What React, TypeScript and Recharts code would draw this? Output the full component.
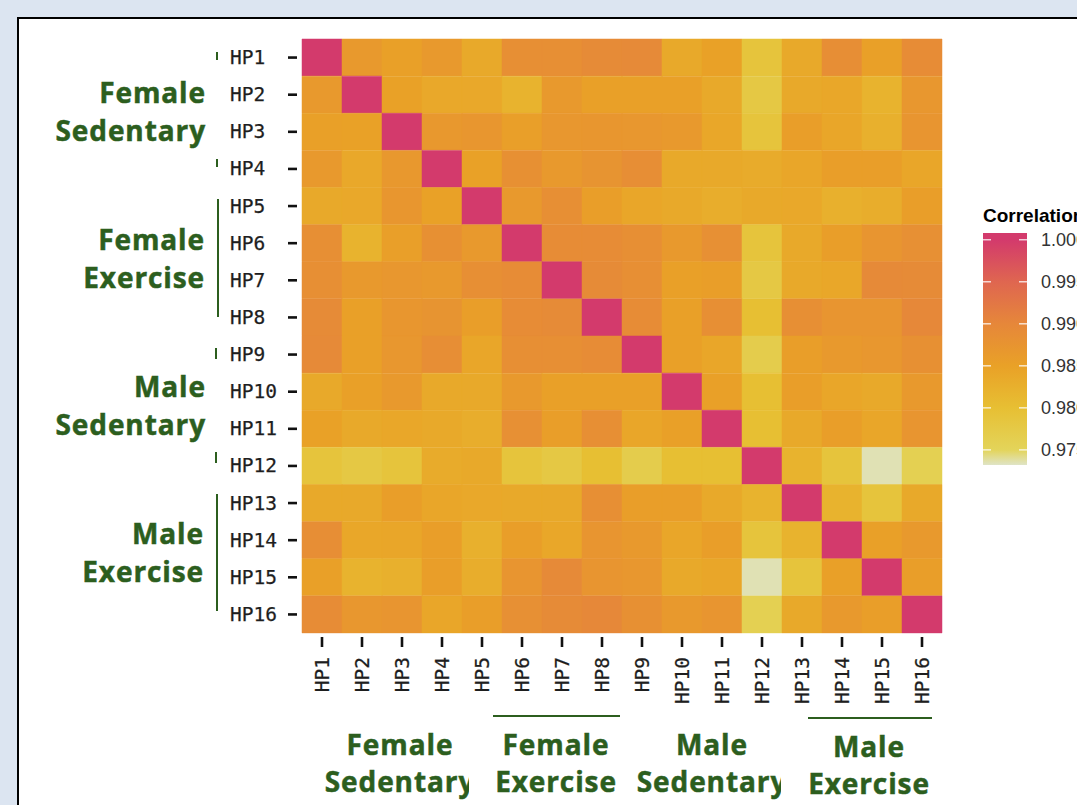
import React from 'react';
import { BarChart, Bar, XAxis, YAxis, Cell } from 'recharts';

// ---------- data ----------
const HP_LABELS = ['HP1','HP2','HP3','HP4','HP5','HP6','HP7','HP8','HP9','HP10','HP11','HP12','HP13','HP14','HP15','HP16'];

const ROW_HP1  = [1, .9865, .9852, .9865, .9836, .9884, .9884, .9892, .9895, .9836, .985, .9788, .9836, .9886, .9852, .989];
const ROW_HP2  = [.9865, 1, .985, .9838, .9838, .982, .9865, .9852, .9852, .9852, .9836, .9778, .9836, .984, .982, .987];
const ROW_HP3  = [.9852, .985, 1, .9868, .9872, .9854, .987, .9872, .987, .9865, .984, .9788, .9855, .9842, .9825, .9873];
const ROW_HP4  = [.9865, .9838, .9868, 1, .985, .9882, .9866, .9875, .9886, .9836, .9836, .9834, .9842, .9855, .9855, .9842];
const ROW_HP5  = [.9836, .9838, .9872, .985, 1, .9865, .9884, .9856, .9842, .9836, .983, .9836, .9838, .9825, .983, .9855];
const ROW_HP6  = [.9884, .982, .9854, .9882, .9865, 1, .989, .989, .9884, .9866, .9883, .9788, .9836, .9856, .9873, .9883];
const ROW_HP7  = [.9884, .9865, .987, .9866, .9884, .989, 1, .9892, .9884, .9852, .9856, .9778, .9836, .984, .9895, .9892];
const ROW_HP8  = [.9892, .9852, .9872, .9875, .9856, .989, .9892, 1, .989, .9852, .9884, .980, .9884, .9873, .9873, .9898];
const ROW_HP9  = [.9895, .9852, .987, .9886, .9842, .9884, .9884, .989, 1, .9852, .9842, .9768, .9856, .9866, .987, .9882];
const ROW_HP10 = [.9836, .9852, .9865, .9836, .9836, .9866, .9852, .9852, .9852, 1, .9852, .980, .9855, .9842, .9836, .9866];
const ROW_HP11 = [.985, .9836, .984, .9836, .983, .9883, .9856, .9884, .9842, .9852, 1, .980, .9836, .9855, .9842, .9873];
const ROW_HP12 = [.9788, .9778, .9788, .9834, .9836, .9788, .9778, .980, .9768, .980, .980, 1, .982, .9788, .9735, .976];
const ROW_HP13 = [.9836, .9836, .9855, .9842, .9838, .9836, .9836, .9884, .9856, .9855, .9836, .982, 1, .982, .9788, .9836];
const ROW_HP14 = [.9886, .984, .9842, .9855, .9825, .9856, .984, .9873, .9866, .9842, .9855, .9788, .982, 1, .9852, .9866];
const ROW_HP15 = [.9852, .982, .9825, .9855, .983, .9873, .9895, .9873, .987, .9836, .9842, .9735, .9788, .9852, 1, .9855];
const ROW_HP16 = [.989, .987, .9873, .9842, .9855, .9883, .9892, .9898, .9882, .9866, .9873, .976, .9836, .9866, .9855, 1];

const CORRELATION_ROWS = [ROW_HP1, ROW_HP2, ROW_HP3, ROW_HP4, ROW_HP5, ROW_HP6, ROW_HP7, ROW_HP8,
  ROW_HP9, ROW_HP10, ROW_HP11, ROW_HP12, ROW_HP13, ROW_HP14, ROW_HP15, ROW_HP16];

const GROUP_FIRST = ['Female', 'Female', 'Male', 'Male'];
const GROUP_SECOND = ['Sedentary', 'Exercise', 'Sedentary', 'Exercise'];

const LEGEND_TICKS = [1.0, 0.995, 0.99, 0.985, 0.98, 0.975];
const LEGEND_TICK_LABELS = ['1.000', '0.995', '0.990', '0.985', '0.980', '0.975'];
const LEGEND_LIMITS = [0.9732, 1.0008];

const SCALE_VALUES = [0.9732, 0.975, 0.98, 0.985, 0.99, 0.995, 1.0];
const SCALE_COLORS = ['#dfe4c6', '#e3d45a', '#e7bf33', '#e9a127', '#e6873a', '#df6650', '#d33a6c'];

// ---------- helpers ----------
const hexToRgb = (h: string) => [1, 3, 5].map((k) => parseInt(h.slice(k, k + 2), 16));
const colorFor = (v: number) => {
  const n = SCALE_VALUES.length;
  if (v <= SCALE_VALUES[0]) return SCALE_COLORS[0];
  if (v >= SCALE_VALUES[n - 1]) return SCALE_COLORS[n - 1];
  let k = 0;
  while (k < n - 2 && v > SCALE_VALUES[k + 1]) k++;
  const t = (v - SCALE_VALUES[k]) / (SCALE_VALUES[k + 1] - SCALE_VALUES[k]);
  const a = hexToRgb(SCALE_COLORS[k]);
  const b = hexToRgb(SCALE_COLORS[k + 1]);
  const c = a.map((x, i) => Math.round(x + (b[i] - x) * t));
  return `rgb(${c[0]},${c[1]},${c[2]})`;
};

const chartData = CORRELATION_ROWS.map((row, i) => {
  const o: Record<string, any> = { name: HP_LABELS[i] };
  row.forEach((_, j) => { o['c' + j] = 1; });
  return o;
});

// ---------- layout ----------
const W = 1077;
const H = 805;
const PLOT_LEFT = 302;
const PLOT_RIGHT = 942;
const PLOT_TOP = 39;
const PLOT_BOTTOM = 633;
const X_AXIS_H = 100;
const GREEN = '#2c5e1e';
const MONO = '"DejaVu Sans Mono", monospace';
const GROUP_FONT = '"Open Sans", sans-serif';
const GROUP_SIZE = 28;

const YTick = (props: any) => {
  const { y, payload } = props;
  return (
    <g>
      <text x={230} y={y} dominantBaseline="central" fontFamily={MONO} fontSize={19.5} fill="#1e1e1e"
        stroke="#1e1e1e" strokeWidth={0.25}>
        {payload.value}
      </text>
      <line x1={288} x2={297} y1={y} y2={y} stroke="#111" strokeWidth={2.6} />
    </g>
  );
};

const XTick = (props: any) => {
  const { x, payload } = props;
  const label = HP_LABELS[Math.floor(payload.value)];
  return (
    <g>
      <line x1={x} x2={x} y1={PLOT_BOTTOM + 4} y2={PLOT_BOTTOM + 14} stroke="#111" strokeWidth={2.6} />
      <text transform={`translate(${x},${PLOT_BOTTOM + 24}) rotate(-90)`} textAnchor="end"
        dominantBaseline="central" fontFamily={MONO} fontSize={19.5} fill="#1e1e1e"
        stroke="#1e1e1e" strokeWidth={0.25}>
        {label}
      </text>
    </g>
  );
};

const LEFT_GROUPS = [
  { cy: 111, right: 206, bx: 217, segs: [[52, 60], [159, 167]] },
  { cy: 258, right: 205, bx: 218, segs: [[199, 317]] },
  { cy: 405, right: 206, bx: 216, segs: [[348, 359], [452, 463]] },
  { cy: 552, right: 204, bx: 217, segs: [[494, 611]] },
];

const BOTTOM_GROUPS = [
  { cx: 400, dy: 0, clip: 469, line: null as null | number[] },
  { cx: 556, dy: 0, clip: null as null | number, line: [493, 620, 716] },
  { cx: 712, dy: 0, clip: 781, line: null },
  { cx: 869, dy: 2, clip: null, line: [808, 932, 718] },
];

const groupText = (x: number, y: number, anchor: string, s: string) => (
  <text x={x} y={y} textAnchor={anchor as any} dominantBaseline="central" fontFamily={GROUP_FONT}
    fontWeight={700} fontSize={GROUP_SIZE} letterSpacing={0.9} fill={GREEN} stroke={GREEN} strokeWidth={0.5}>
    {s}
  </text>
);

const Overlay = () => {
  const lgTop = 233;
  const lgBottom = 465;
  const lgLeft = 983;
  const lgRight = 1027;
  const vToY = (v: number) =>
    lgTop + ((LEGEND_LIMITS[1] - v) / (LEGEND_LIMITS[1] - LEGEND_LIMITS[0])) * (lgBottom - lgTop);
  const stops = SCALE_VALUES.map((v, i) => ({
    off: (LEGEND_LIMITS[1] - v) / (LEGEND_LIMITS[1] - LEGEND_LIMITS[0]),
    col: SCALE_COLORS[i],
  })).sort((a, b) => a.off - b.off);
  return (
    <svg width={W} height={H} style={{ position: 'absolute', left: 0, top: 0, pointerEvents: 'none' }}>
      <defs>
        <linearGradient id="lg" x1="0" y1="0" x2="0" y2="1">
          {stops.map((s, i) => (
            <stop key={i} offset={Math.max(0, Math.min(1, s.off))} stopColor={s.col} />
          ))}
        </linearGradient>
        {BOTTOM_GROUPS.map((g, i) => (
          <clipPath id={'bc' + i} key={i}>
            <rect x={0} y={0} width={g.clip ?? W} height={H} />
          </clipPath>
        ))}
      </defs>

      {LEFT_GROUPS.map((g, i) => (
        <g key={'l' + i}>
          {groupText(g.right, g.cy - 19, 'end', GROUP_FIRST[i])}
          {groupText(g.right, g.cy + 19, 'end', GROUP_SECOND[i])}
          {g.segs.map((s, k) => (
            <line key={k} x1={g.bx} x2={g.bx} y1={s[0]} y2={s[1]} stroke={GREEN} strokeWidth={2} />
          ))}
        </g>
      ))}

      {BOTTOM_GROUPS.map((g, i) => (
        <g key={'b' + i}>
          {g.line && (
            <line x1={g.line[0]} x2={g.line[1]} y1={g.line[2]} y2={g.line[2]} stroke={GREEN} strokeWidth={2} />
          )}
          <g clipPath={`url(#bc${i})`}>
            {groupText(g.cx, 744 + g.dy, 'middle', GROUP_FIRST[i])}
            {groupText(g.cx, 781 + g.dy, 'middle', GROUP_SECOND[i])}
          </g>
        </g>
      ))}

      <text x={983} y={222} fontFamily='"Liberation Sans", Arial, sans-serif' fontWeight={700} fontSize={19}
        fill="#000">Correlation</text>
      <rect x={lgLeft} y={lgTop} width={lgRight - lgLeft} height={lgBottom - lgTop} fill="url(#lg)" />
      {LEGEND_TICKS.map((v, i) => {
        const y = vToY(v);
        return (
          <g key={'t' + i}>
            <line x1={lgLeft} x2={lgLeft + 8} y1={y} y2={y} stroke="#fff" strokeOpacity={0.75} strokeWidth={1.5} />
            <line x1={lgRight - 8} x2={lgRight} y1={y} y2={y} stroke="#fff" strokeOpacity={0.75} strokeWidth={1.5} />
            <text x={1041} y={y} dominantBaseline="central" fontFamily='"Liberation Sans", Arial, sans-serif'
              fontSize={18} fill="#333">
              {LEGEND_TICK_LABELS[i]}
            </text>
          </g>
        );
      })}
    </svg>
  );
};

export default function App() {
  return (
    <div style={{ position: 'absolute', left: 0, top: 0, width: W, height: H, overflow: 'hidden', background: '#dce5f1' }}>
      <div style={{ position: 'absolute', left: 17, top: 17, width: 1120, height: 850, background: '#fff', border: '2px solid #000' }} />
      <div style={{ position: 'absolute', left: 0, top: 0 }}>
        <BarChart
          width={W}
          height={H}
          data={chartData}
          layout="vertical"
          barCategoryGap={0}
          barGap={0}
          margin={{ top: PLOT_TOP, right: W - PLOT_RIGHT, bottom: H - PLOT_BOTTOM - X_AXIS_H, left: 0 }}
        >
          <XAxis
            type="number"
            domain={[0, HP_LABELS.length]}
            ticks={HP_LABELS.map((_, j) => j + 0.5)}
            interval={0}
            height={X_AXIS_H}
            axisLine={false}
            tickLine={false}
            tick={XTick}
          />
          <YAxis
            type="category"
            dataKey="name"
            width={PLOT_LEFT}
            interval={0}
            axisLine={false}
            tickLine={false}
            tick={YTick}
          />
          {HP_LABELS.map((_, j) => (
            <Bar key={j} dataKey={'c' + j} stackId="m" isAnimationActive={false}>
              {CORRELATION_ROWS.map((row, i) => (
                <Cell key={i} fill={colorFor(row[j])} stroke={colorFor(row[j])} strokeWidth={0.5} />
              ))}
            </Bar>
          ))}
        </BarChart>
      </div>
      <Overlay />
    </div>
  );
}
